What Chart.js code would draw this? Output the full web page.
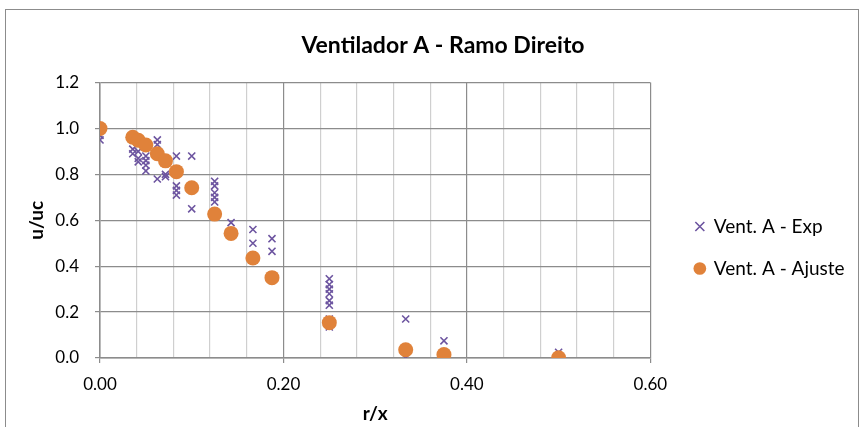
<!DOCTYPE html>
<html>
<head>
<meta charset="utf-8">
<script src="https://cdn.jsdelivr.net/npm/chart.js@4.4.1/dist/chart.umd.min.js"></script>
<style>
  html, body { margin: 0; padding: 0; background: #fff; overflow: hidden; }
  #frame {
    position: absolute; left: 5px; top: 9px; width: 852px; height: 440px;
    border: 1px solid #8c8c8c;
  }
  #wrap { position: absolute; left: 0; top: 0; }
</style>
</head>
<body>
<div id="frame"></div>
<div id="wrap"><canvas id="chartVent" width="886" height="427"></canvas></div>
<script>
// dados experimentais (r/x, u/uc)
const expR = [
  0, 0,
  0.0357, 0.0357,
  0.0417, 0.0417, 0.0417,
  0.05, 0.05, 0.05, 0.05,
  0.0625, 0.0625, 0.0625,
  0.0714, 0.0714,
  0.0833, 0.0833, 0.0833, 0.0833,
  0.1, 0.1,
  0.125, 0.125, 0.125, 0.125, 0.125,
  0.1429, 0.1429,
  0.1667, 0.1667, 0.1667,
  0.1875, 0.1875, 0.1875,
  0.25, 0.25, 0.25, 0.25, 0.25, 0.25, 0.25, 0.25,
  0.3333, 0.3333,
  0.375, 0.375,
  0.5
];
const expU = [
  0.97, 0.95,
  0.91, 0.89,
  0.87, 0.90, 0.855,
  0.88, 0.84, 0.815, 0.86,
  0.95, 0.93, 0.78,
  0.79, 0.80,
  0.88, 0.75, 0.73, 0.71,
  0.88, 0.65,
  0.77, 0.75, 0.72, 0.70, 0.68,
  0.59, 0.55,
  0.56, 0.50, 0.44,
  0.52, 0.465, 0.36,
  0.345, 0.32, 0.30, 0.28, 0.25, 0.23, 0.17, 0.135,
  0.17, 0.0,
  0.075, 0.01,
  0.025
];

// curva ajustada
const ajusteR = [0, 0.0357, 0.0417, 0.05, 0.0625, 0.0714, 0.0833, 0.1, 0.125, 0.1429, 0.1667, 0.1875, 0.25, 0.3333, 0.375, 0.5];
const ajusteU = [1.0, 0.962, 0.949, 0.928, 0.89, 0.859, 0.812, 0.742, 0.627, 0.543, 0.436, 0.35, 0.154, 0.036, 0.015, 0.001];

const xMajor = [0, 0.2, 0.4, 0.6];
const yTicks = [0, 0.2, 0.4, 0.6, 0.8, 1.0, 1.2];

const FONT = "Lato, 'Open Sans', sans-serif";

function toPoints(xs, ys) {
  return xs.map((x, i) => ({ x: x, y: ys[i] }));
}

function isMajor(v) {
  return xMajor.some((m) => Math.abs(m - v) < 1e-6);
}

// legenda mais abaixo e mais perto do grafico, como no Excel
const legendShift = {
  id: "legendShift",
  afterLayout(chart) {
    const lg = chart.legend;
    lg.top += 35;
    lg.bottom += 35;
    lg.left -= 66;
  },
};

const ctx = document.getElementById("chartVent");

new Chart(ctx, {
  type: "scatter",
  data: {
    datasets: [
      {
        label: "Vent. A - Exp",
        data: toPoints(expR, expU),
        pointStyle: "crossRot",
        pointRadius: 5,
        pointBorderWidth: 1.6,
        borderColor: "#6d55a0",
        backgroundColor: "#6d55a0",
        order: 2,
      },
      {
        label: "Vent. A - Ajuste",
        data: toPoints(ajusteR, ajusteU),
        pointStyle: "circle",
        pointRadius: 7.5,
        pointBorderWidth: 0,
        borderColor: "#e0823a",
        backgroundColor: "#e0823a",
        order: 1,
      },
    ],
  },
  plugins: [legendShift],
  options: {
    responsive: false,
    animation: false,
    layout: { padding: { left: 0, right: 0, top: 0, bottom: 2 } },
    plugins: {
      tooltip: { enabled: false },
      title: {
        display: true,
        text: "Ventilador A - Ramo Direito",
        color: "#000",
        font: { family: FONT, size: 23, weight: "bold" },
        padding: { top: 32, bottom: 23 },
      },
      legend: {
        position: "right",
        labels: {
          usePointStyle: true,
          boxWidth: 9,
          boxHeight: 9,
          padding: 23,
          color: "#000",
          font: { family: FONT, size: 19 },
          sort: (a, b) => a.datasetIndex - b.datasetIndex,
        },
      },
    },
    scales: {
      x: {
        type: "linear",
        min: 0,
        max: 0.6,
        afterFit: (axis) => {
          axis.height = 67;
        },
        title: {
          display: true,
          text: "r/x",
          color: "#000",
          font: { family: FONT, size: 19, weight: "bold" },
          padding: { top: 0, bottom: 0 },
        },
        ticks: {
          stepSize: 0.04,
          autoSkip: false,
          maxRotation: 0,
          padding: 11,
          color: "#000",
          font: { family: FONT, size: 17 },
          callback: (v) => (isMajor(v) ? v.toFixed(2) : ""),
        },
        grid: {
          color: (c) => (isMajor(c.tick.value) ? "#8c8c8c" : "#cfcfcf"),
          tickColor: (c) => (isMajor(c.tick.value) ? "#8c8c8c" : "rgba(0,0,0,0)"),
          tickLength: 5,
          lineWidth: 1.2,
        },
        border: { color: "#8c8c8c", width: 1.5 },
      },
      y: {
        type: "linear",
        min: 0,
        max: 1.2,
        afterFit: (axis) => {
          axis.width = 100;
        },
        title: {
          display: true,
          text: "u/uc",
          color: "#000",
          font: { family: FONT, size: 19, weight: "bold" },
          padding: { top: 25, bottom: 0 },
        },
        afterBuildTicks: (axis) => {
          axis.ticks = yTicks.map((v) => ({ value: v }));
        },
        ticks: {
          color: "#000",
          font: { family: FONT, size: 17 },
          padding: 16,
          callback: (v) => v.toFixed(1),
        },
        grid: {
          color: "#8c8c8c",
          tickColor: "#8c8c8c",
          tickLength: 5,
          lineWidth: 1.2,
        },
        border: { color: "#8c8c8c", width: 1.5 },
      },
      // eixo vazio so para abrir espaco antes da legenda
      gap: {
        type: "linear",
        position: "right",
        display: true,
        afterFit: (axis) => {
          axis.width = 88;
        },
        ticks: { display: false },
        grid: { display: false },
        border: { display: false },
      },
    },
  },
});
</script>
</body>
</html>
